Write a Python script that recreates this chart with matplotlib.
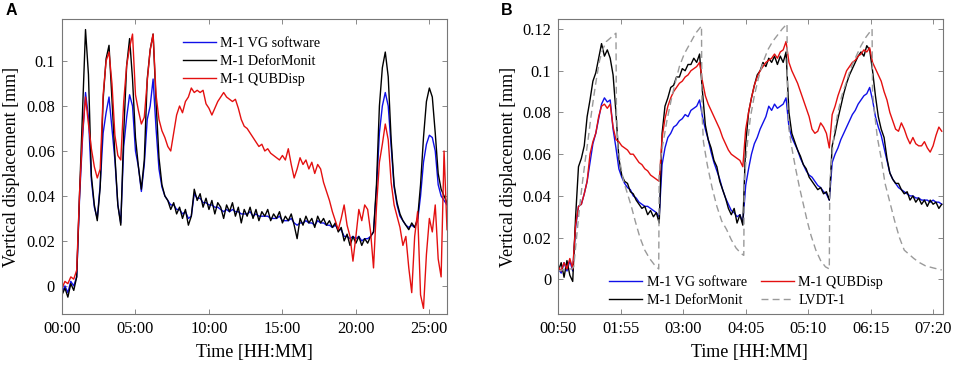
import numpy as np
import matplotlib
matplotlib.use("Agg")
from matplotlib import pyplot as plt

# ---- panel A: time in hours ----
tA = np.round(np.arange(0, 26.21, 0.2), 1)

vg_A = [-0.003, 0.000, -0.003, 0.002, 0.000, 0.004, 0.040, 0.066, 0.086, 0.075,
        0.047, 0.035, 0.030, 0.045, 0.068, 0.077, 0.084, 0.070, 0.056, 0.036,
        0.028, 0.062, 0.075, 0.085, 0.080, 0.060, 0.053, 0.042, 0.054, 0.074,
        0.080, 0.092, 0.070, 0.052, 0.044, 0.040, 0.038, 0.036, 0.036, 0.034,
        0.034, 0.032, 0.033, 0.030, 0.031, 0.041, 0.039, 0.039, 0.037, 0.037,
        0.036, 0.036, 0.035, 0.035, 0.034, 0.033, 0.034, 0.033, 0.034, 0.033,
        0.033, 0.032, 0.032, 0.032, 0.033, 0.031, 0.032, 0.031, 0.031, 0.031,
        0.031, 0.030, 0.030, 0.030, 0.031, 0.029, 0.029, 0.029, 0.030, 0.028,
        0.027, 0.028, 0.028, 0.029, 0.028, 0.028, 0.027, 0.029, 0.028, 0.028,
        0.027, 0.027, 0.026, 0.027, 0.025, 0.025, 0.022, 0.022, 0.021, 0.022,
        0.021, 0.022, 0.020, 0.021, 0.021, 0.022, 0.024, 0.043, 0.068, 0.080,
        0.086, 0.080, 0.062, 0.044, 0.036, 0.031, 0.029, 0.027, 0.026, 0.027,
        0.026, 0.029, 0.040, 0.055, 0.063, 0.067, 0.066, 0.060, 0.045, 0.040,
        0.038, 0.036]

dm_A = [-0.004, -0.001, -0.005, 0.001, -0.002, 0.004, 0.042, 0.078, 0.114, 0.094,
        0.049, 0.036, 0.029, 0.044, 0.083, 0.101, 0.107, 0.083, 0.058, 0.036,
        0.027, 0.068, 0.098, 0.110, 0.092, 0.066, 0.053, 0.043, 0.056, 0.092,
        0.105, 0.112, 0.082, 0.057, 0.045, 0.040, 0.038, 0.034, 0.037, 0.032,
        0.035, 0.030, 0.034, 0.027, 0.031, 0.043, 0.038, 0.041, 0.035, 0.039,
        0.034, 0.038, 0.032, 0.037, 0.035, 0.030, 0.036, 0.033, 0.037, 0.031,
        0.035, 0.028, 0.034, 0.031, 0.035, 0.030, 0.034, 0.029, 0.033, 0.031,
        0.034, 0.029, 0.032, 0.030, 0.033, 0.028, 0.031, 0.029, 0.032, 0.027,
        0.021, 0.030, 0.027, 0.031, 0.028, 0.030, 0.026, 0.031, 0.028, 0.030,
        0.027, 0.029, 0.026, 0.028, 0.024, 0.026, 0.020, 0.023, 0.018, 0.022,
        0.019, 0.022, 0.018, 0.021, 0.019, 0.022, 0.024, 0.045, 0.080, 0.097,
        0.104, 0.093, 0.065, 0.045, 0.037, 0.032, 0.029, 0.027, 0.025, 0.028,
        0.026, 0.030, 0.045, 0.066, 0.082, 0.088, 0.084, 0.068, 0.050, 0.043,
        0.040, 0.037]

qub_A = [-0.001, 0.002, 0.001, 0.004, 0.003, 0.007, 0.042, 0.068, 0.084, 0.072,
         0.061, 0.053, 0.048, 0.052, 0.085, 0.100, 0.104, 0.090, 0.067, 0.058,
         0.056, 0.082, 0.098, 0.106, 0.112, 0.085, 0.078, 0.072, 0.075, 0.091,
         0.105, 0.112, 0.085, 0.074, 0.069, 0.066, 0.062, 0.060, 0.068, 0.076,
         0.080, 0.077, 0.082, 0.084, 0.088, 0.086, 0.087, 0.086, 0.087, 0.081,
         0.079, 0.076, 0.079, 0.082, 0.084, 0.086, 0.084, 0.083, 0.082, 0.083,
         0.079, 0.074, 0.071, 0.070, 0.068, 0.066, 0.064, 0.062, 0.063, 0.060,
         0.061, 0.059, 0.058, 0.057, 0.056, 0.058, 0.056, 0.061, 0.054, 0.048,
         0.052, 0.057, 0.054, 0.056, 0.052, 0.055, 0.050, 0.054, 0.052, 0.046,
         0.042, 0.038, 0.033, 0.029, 0.025, 0.030, 0.036, 0.027, 0.022, 0.011,
         0.022, 0.034, 0.029, 0.036, 0.034, 0.024, 0.008, 0.035, 0.055, 0.063,
         0.072, 0.065, 0.046, 0.036, 0.031, 0.026, 0.018, 0.022, 0.008, -0.003,
         0.022, 0.033, -0.004, -0.010, 0.014, 0.030, 0.024, 0.036, 0.012, 0.004,
         0.060, 0.025]

# ---- panel B: time in minutes ----
tB = np.arange(50, 450, 3)

vg_B = [0.005, 0.003, 0.008, 0.004, 0.009, 0.004, 0.025, 0.035, 0.036, 0.041,
        0.047, 0.056, 0.065, 0.070, 0.077, 0.084, 0.087, 0.085, 0.086, 0.072,
        0.063, 0.053, 0.049, 0.046, 0.044, 0.043, 0.040, 0.039, 0.037, 0.036,
        0.035, 0.035, 0.034, 0.033, 0.032, 0.030, 0.055, 0.063, 0.068, 0.070,
        0.073, 0.074, 0.076, 0.077, 0.079, 0.078, 0.081, 0.082, 0.083, 0.086,
        0.078, 0.072, 0.067, 0.061, 0.056, 0.052, 0.048, 0.043, 0.039, 0.036,
        0.033, 0.032, 0.030, 0.031, 0.027, 0.045, 0.053, 0.060, 0.065, 0.068,
        0.072, 0.075, 0.078, 0.083, 0.081, 0.084, 0.082, 0.083, 0.084, 0.087,
        0.073, 0.068, 0.065, 0.062, 0.058, 0.055, 0.052, 0.050, 0.049, 0.047,
        0.045, 0.044, 0.042, 0.041, 0.038, 0.056, 0.060, 0.063, 0.067, 0.070,
        0.073, 0.076, 0.079, 0.081, 0.084, 0.086, 0.088, 0.089, 0.092, 0.086,
        0.078, 0.073, 0.069, 0.063, 0.057, 0.051, 0.048, 0.046, 0.044, 0.043,
        0.042, 0.041, 0.040, 0.040, 0.039, 0.039, 0.038, 0.038, 0.038, 0.037,
        0.038, 0.037, 0.037, 0.036]

dm_B = [0.004, 0.008, 0.001, 0.009, 0.002, -0.001, 0.030, 0.054, 0.058, 0.064,
        0.078, 0.086, 0.095, 0.099, 0.106, 0.113, 0.107, 0.110, 0.106, 0.098,
        0.080, 0.058, 0.050, 0.047, 0.046, 0.042, 0.041, 0.038, 0.036, 0.034,
        0.035, 0.031, 0.033, 0.030, 0.032, 0.027, 0.070, 0.083, 0.087, 0.092,
        0.093, 0.097, 0.097, 0.101, 0.100, 0.103, 0.103, 0.106, 0.104, 0.108,
        0.090, 0.074, 0.067, 0.063, 0.057, 0.054, 0.047, 0.043, 0.039, 0.034,
        0.031, 0.034, 0.027, 0.031, 0.026, 0.065, 0.080, 0.087, 0.093, 0.098,
        0.100, 0.104, 0.102, 0.106, 0.104, 0.107, 0.103, 0.107, 0.104, 0.109,
        0.080, 0.070, 0.066, 0.062, 0.059, 0.055, 0.053, 0.049, 0.047, 0.045,
        0.043, 0.044, 0.041, 0.042, 0.038, 0.064, 0.070, 0.077, 0.083, 0.089,
        0.094, 0.098, 0.101, 0.104, 0.107, 0.109, 0.107, 0.112, 0.110, 0.100,
        0.088, 0.078, 0.072, 0.068, 0.058, 0.051, 0.048, 0.046, 0.046, 0.043,
        0.041, 0.042, 0.038, 0.040, 0.037, 0.039, 0.036, 0.038, 0.035, 0.038,
        0.036, 0.037, 0.034, 0.036]

qub_B = [0.006, 0.004, 0.008, 0.005, 0.010, 0.005, 0.026, 0.035, 0.036, 0.041,
         0.047, 0.060, 0.066, 0.070, 0.078, 0.083, 0.084, 0.082, 0.084, 0.073,
         0.067, 0.066, 0.064, 0.063, 0.062, 0.060, 0.060, 0.058, 0.056, 0.055,
         0.053, 0.052, 0.050, 0.049, 0.048, 0.047, 0.068, 0.077, 0.083, 0.087,
         0.090, 0.092, 0.094, 0.095, 0.097, 0.098, 0.100, 0.101, 0.102, 0.104,
         0.095, 0.088, 0.084, 0.081, 0.078, 0.075, 0.072, 0.068, 0.065, 0.062,
         0.060, 0.059, 0.058, 0.057, 0.054, 0.072, 0.080, 0.087, 0.093, 0.097,
         0.100, 0.102, 0.104, 0.105, 0.106, 0.108, 0.106, 0.109, 0.110, 0.114,
         0.104, 0.100, 0.097, 0.094, 0.090, 0.086, 0.082, 0.078, 0.072, 0.070,
         0.071, 0.075, 0.073, 0.070, 0.063, 0.079, 0.083, 0.088, 0.092, 0.096,
         0.100, 0.102, 0.104, 0.105, 0.107, 0.108, 0.110, 0.109, 0.111, 0.104,
         0.101, 0.098, 0.095, 0.090, 0.086, 0.080, 0.076, 0.072, 0.071, 0.075,
         0.072, 0.068, 0.065, 0.068, 0.065, 0.064, 0.064, 0.066, 0.063, 0.061,
         0.064, 0.069, 0.073, 0.071]

t_lvdt = [50, 58, 64, 66, 69, 72, 75, 78, 81, 84, 87, 90, 93, 96, 100, 105, 110,
          110.5, 112, 115, 118, 122, 126, 130, 135, 140, 145, 150, 154.5,
          155, 157, 160, 163, 167, 171, 176, 181, 187, 193, 199,
          199.5, 201, 205, 210, 215, 220, 225, 230, 235, 240, 243,
          243.5, 246, 250, 254, 258, 263, 268, 273, 278, 283, 288,
          288.5, 290, 293, 297, 301, 305, 309, 313, 318, 323, 328, 332,
          332.5, 334, 337, 341, 345, 350, 355, 360, 365, 370, 376.5,
          377, 379, 382, 386, 390, 395, 400, 405, 410, 415, 420, 426, 432, 440, 449]
lvdt = [0.004, 0.005, 0.005, 0.006, 0.020, 0.034, 0.046, 0.057, 0.067, 0.078, 0.088, 0.097, 0.105, 0.110, 0.114, 0.116, 0.118,
        0.080, 0.063, 0.054, 0.047, 0.041, 0.035, 0.028, 0.020, 0.014, 0.010, 0.007, 0.005,
        0.050, 0.060, 0.068, 0.076, 0.085, 0.093, 0.102, 0.108, 0.113, 0.118, 0.1215,
        0.080, 0.066, 0.055, 0.044, 0.035, 0.028, 0.024, 0.019, 0.015, 0.0125, 0.0115,
        0.045, 0.062, 0.078, 0.088, 0.096, 0.104, 0.110, 0.114, 0.117, 0.120, 0.1225,
        0.085, 0.072, 0.063, 0.053, 0.044, 0.036, 0.028, 0.021, 0.014, 0.009, 0.006, 0.005,
        0.045, 0.055, 0.070, 0.080, 0.088, 0.095, 0.102, 0.107, 0.112, 0.116, 0.120,
        0.090, 0.080, 0.068, 0.058, 0.046, 0.037, 0.028, 0.020, 0.014, 0.012, 0.010, 0.008, 0.0065, 0.0055, 0.0045]

labels = ["M-1 VG software", "M-1 DeforMonit", "M-1 QUBDisp", "LVDT-1"]

plt.rcParams['font.family'] = ['Liberation Serif', 'DejaVu Serif']

BLUE = '#1010e8'
RED = '#e41010'
GRAY = '#9a9a9a'
FRAME = '#777777'

fig = plt.figure(figsize=(9.57, 3.65), dpi=100)
axA = fig.add_axes([62/957, 51/365, 385/957, 295/365])
axB = fig.add_axes([558.3/957, 51/365, 384.4/957, 295/365])


def style(ax):
    for s in ax.spines.values():
        s.set_color(FRAME)
        s.set_linewidth(0.8)
    ax.tick_params(direction='in', top=True, right=True, length=3.5, width=0.6,
                   color=FRAME, labelsize=11.8, pad=5)
    ax.yaxis.set_major_formatter(matplotlib.ticker.FuncFormatter(lambda v, p: f"{v:g}"))


# panel A
axA.plot(tA, vg_A, color=BLUE, lw=1.0, label=labels[0])
axA.plot(tA, dm_A, color='black', lw=1.0, label=labels[1])
axA.plot(tA, qub_A, color=RED, lw=1.0, label=labels[2])
axA.set_xlim(0, 26.2)
axA.set_ylim(-0.0125, 0.1187)
axA.set_xticks([0, 5, 10, 15, 20, 25])
axA.set_xticklabels([f"{h:02d}:00" for h in [0, 5, 10, 15, 20, 25]])
axA.set_yticks([0, 0.02, 0.04, 0.06, 0.08, 0.1])
style(axA)
axA.set_xlabel("Time [HH:MM]", fontsize=13)
axA.set_ylabel("Vertical displacement [mm]", fontsize=13)
axA.xaxis.set_label_coords(0.5, -0.10)
axA.yaxis.set_label_coords(-0.109, 0.5)
axA.legend(loc='upper left', bbox_to_anchor=(0.314, 0.94), frameon=False,
           fontsize=10.2, handlelength=2.35, handletextpad=0.3, labelspacing=0.36,
           borderpad=0, borderaxespad=0)

# panel B
axB.plot(tB, vg_B, color=BLUE, lw=1.0, label=labels[0])
axB.plot(tB, dm_B, color='black', lw=1.0, label=labels[1])
axB.plot(tB, qub_B, color=RED, lw=1.0, label=labels[2])
axB.plot(t_lvdt, lvdt, color=GRAY, lw=1.0, ls=(0, (5, 3)), label=labels[3])
axB.set_xlim(50, 450)
axB.set_ylim(-0.0166, 0.1248)
ticksB = [50, 115, 180, 245, 310, 375, 440]
axB.set_xticks(ticksB)
axB.set_xticklabels([f"{m // 60:02d}:{m % 60:02d}" for m in ticksB])
axB.set_yticks([0, 0.02, 0.04, 0.06, 0.08, 0.1, 0.12])
style(axB)
axB.set_xlabel("Time [HH:MM]", fontsize=13)
axB.set_ylabel("Vertical displacement [mm]", fontsize=13)
axB.xaxis.set_label_coords(0.496, -0.10)
axB.yaxis.set_label_coords(-0.108, 0.5)
axB.legend(loc='upper left', bbox_to_anchor=(0.132, 0.128), frameon=False, ncol=2,
           fontsize=10.2, handlelength=2.35, handletextpad=0.3, labelspacing=0.32,
           columnspacing=1.0, borderpad=0, borderaxespad=0)

fig.text(6/957, 1 - 3/365, "A", fontsize=11.5, fontweight='bold',
         family=['Liberation Sans', 'DejaVu Sans'], ha='left', va='top')
fig.text(501/957, 1 - 3/365, "B", fontsize=11.5, fontweight='bold',
         family=['Liberation Sans', 'DejaVu Sans'], ha='left', va='top')

fig.savefig("out.png", dpi=100)
